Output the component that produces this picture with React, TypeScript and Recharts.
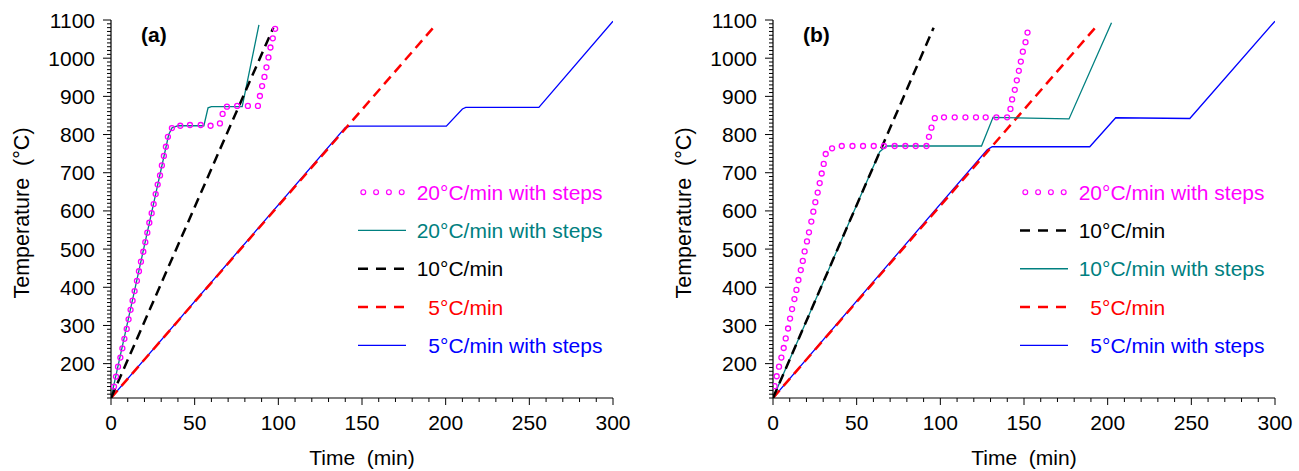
import React from 'react';
import { LineChart, Line, XAxis, YAxis, Legend } from 'recharts';

const FONT = "'Liberation Sans', Arial, sans-serif";

// ---------- tick labels ----------
const xTickLabels = [0, 50, 100, 150, 200, 250, 300];
const yTickLabels = [200, 300, 400, 500, 600, 700, 800, 900, 1000, 1100];
const X_DOMAIN: [number, number] = [0, 300];
const Y_DOMAIN: [number, number] = [110, 1100];
const X_MINOR_STEP = 10;
const Y_MINOR_STEP = 10;

// ---------- panel (a) data ----------
const aCircleTime = [1.8, 3.0, 4.2, 5.6, 6.8, 8.0, 9.4, 10.5, 11.7, 12.9, 14.1, 15.5, 16.7, 17.9, 19.3, 20.5, 21.7, 22.9, 24.3, 25.5, 26.7, 27.9, 29.3, 30.4, 31.6, 32.8, 34.0, 36.4, 41.4, 47.2, 53.6, 59.5, 65.1, 66.7, 69.3, 75.4, 81.8, 87.8, 89.0, 90.3, 91.7, 92.9, 94.1, 95.3, 96.7, 98.1];
const aCircleTemp = [140, 166, 192, 216, 240, 265, 291, 316, 341, 365, 390, 417, 442, 467, 493, 518, 543, 569, 594, 618, 644, 669, 693, 719, 744, 768, 794, 817, 823, 825, 825, 823, 829, 854, 873, 875, 875, 875, 901, 927, 951, 976, 1002, 1028, 1052, 1077];
const aTealTime = [0, 34.5, 36.5, 40, 55.5, 58, 60, 78.4, 88.4];
const aTealTemp = [110, 800, 818, 823, 823, 870, 873, 873, 1087];
const aBlackTime = [0, 97];
const aBlackTemp = [110, 1080];
const aRedTime = [0, 194];
const aRedTemp = [110, 1087];
const aBlueTime = [0, 140, 143, 200.4, 210, 212, 255.7, 300];
const aBlueTemp = [110, 818, 822, 822, 867, 871, 871, 1097];

// ---------- panel (b) data ----------
const bCircleTime = [1.0, 2.2, 3.6, 5.0, 6.4, 7.6, 9.0, 10.2, 11.4, 12.8, 14.0, 15.2, 16.6, 17.8, 18.9, 20.3, 21.5, 22.9, 24.1, 25.3, 26.7, 27.9, 29.1, 30.3, 31.5, 35.3, 41.1, 47.5, 53.8, 60.2, 66.3, 72.7, 79.1, 85.3, 91.7, 93.2, 94.7, 96.7, 102.2, 108.6, 115.0, 121.3, 127.1, 133.5, 139.9, 141.9, 142.9, 144.5, 145.7, 146.9, 148.1, 149.3, 150.9, 152.1];
const bCircleTemp = [141, 167, 192, 216, 241, 266, 292, 318, 343, 369, 393, 419, 445, 469, 494, 520, 544, 572, 598, 623, 648, 673, 698, 723, 749, 764, 770, 770, 770, 770, 770, 770, 770, 770, 770, 794, 818, 843, 845, 845, 845, 845, 845, 845, 845, 867, 892, 917, 942, 967, 991, 1017, 1042, 1067];
const bBlackTime = [0, 96];
const bBlackTemp = [110, 1080];
const bTealTime = [0, 63.8, 67.8, 124.6, 131.5, 176.9, 202.3];
const bTealTemp = [110, 755, 770, 770, 845, 841, 1093];
const bRedTime = [0, 194];
const bRedTemp = [110, 1087];
const bBlueTime = [0, 128, 131, 189.3, 204.8, 249.1, 300];
const bBlueTemp = [110, 760, 768, 768, 844, 842, 1097];

// ---------- legend labels ----------
const aLegendLabels = ['20°C/min with steps', '20°C/min with steps', '10°C/min', '  5°C/min', '  5°C/min with steps'];
const bLegendLabels = ['20°C/min with steps', '10°C/min', '10°C/min with steps', '  5°C/min', '  5°C/min with steps'];

const MAGENTA = '#FF00FF';
const TEAL = '#008080';
const BLACK = '#000000';
const RED = '#FF0000';
const BLUE = '#0000FF';

type Pt = { t: number; T: number };
const zip = (t: number[], T: number[]): Pt[] => t.map((v, i) => ({ t: v, T: T[i] }));

type Kind = 'circle' | 'solid' | 'dash';
type Series = { key: string; data: Pt[]; color: string; kind: Kind };
type LegendItem = { label: string; color: string; kind: Kind };

const range = (a: number, b: number, s: number) => {
  const out: number[] = [];
  for (let v = a; v <= b + 1e-9; v += s) out.push(Math.round(v));
  return out;
};
const xTicksAll = range(X_DOMAIN[0], X_DOMAIN[1], X_MINOR_STEP);
const yTicksAll = range(Y_DOMAIN[0], Y_DOMAIN[1], Y_MINOR_STEP);

const XTick = (props: any) => {
  const { x, y, payload } = props;
  const v = payload.value;
  const major = xTickLabels.includes(v);
  return (
    <g>
      <line x1={x} x2={x} y1={y} y2={y + (major ? 7 : 4)} stroke="#000" strokeWidth={1} />
      {major && (
        <text x={x} y={y + 32} textAnchor="middle" fontSize={21} fill="#000" fontFamily={FONT}>
          {v}
        </text>
      )}
    </g>
  );
};

const YTick = (props: any) => {
  const { x, y, payload } = props;
  const v = payload.value;
  const major = yTickLabels.includes(v);
  return (
    <g>
      <line x1={x - (major ? 8 : 4)} x2={x} y1={y} y2={y} stroke="#000" strokeWidth={1} />
      {major && (
        <text x={x - 16} y={y + 7.5} textAnchor="end" fontSize={21} fill="#000" fontFamily={FONT}>
          {v}
        </text>
      )}
    </g>
  );
};

const XTitle = (props: any) => {
  const vb = props.viewBox || { x: 111, y: 398, width: 502, height: 73 };
  return (
    <text x={vb.x + vb.width / 2} y={vb.y + 67} textAnchor="middle" fontSize={21} fill="#000" fontFamily={FONT} style={{ whiteSpace: 'pre' }}>
      {'Time  (min)'}
    </text>
  );
};

const YTitle = (props: any) => {
  const vb = props.viewBox || { x: 0, y: 20, width: 111, height: 378 };
  const cx = vb.x + 28.5;
  const cy = vb.y + vb.height / 2 + 4;
  return (
    <g>
      <text x={cx} y={cy} transform={`rotate(-90, ${cx}, ${cy})`} textAnchor="middle" fontSize={21.5} fill="#000" fontFamily={FONT} style={{ whiteSpace: 'pre' }}>
        {'Temperature  (°C)'}
      </text>
      <text x={vb.x + vb.width + 30} y={vb.y + 21.5} fontSize={21} fontWeight="bold" fill="#000" fontFamily={FONT}>
        {props.tag}
      </text>
    </g>
  );
};

const LegendBox = ({ items }: { items: LegendItem[] }) => {
  const rowH = 38.3;
  return (
    <svg width={270} height={rowH * items.length} style={{ display: 'block', overflow: 'visible' }}>
      {items.map((it, i) => {
        const cy = rowH / 2 + rowH * i;
        return (
          <g key={i}>
            {it.kind === 'circle' &&
              [0, 1, 2, 3].map((k) => (
                <circle key={k} cx={5.3 + 12.8 * k} cy={cy} r={2.4} fill="none" stroke={it.color} strokeWidth={1.2} />
              ))}
            {it.kind === 'solid' && <line x1={0} x2={48} y1={cy} y2={cy} stroke={it.color} strokeWidth={1.3} />}
            {it.kind === 'dash' && (
              <line x1={0} x2={48} y1={cy} y2={cy} stroke={it.color} strokeWidth={2.5} strokeDasharray="10 8" />
            )}
            <text x={58.7} y={cy + 7.5} fontSize={21} fill={it.color} fontFamily={FONT} style={{ whiteSpace: 'pre' }}>
              {it.label}
            </text>
          </g>
        );
      })}
    </svg>
  );
};

const Panel = ({ tag, series, legend, left, width }: { tag: string; series: Series[]; legend: LegendItem[]; left: number; width: number }) => (
  <div style={{ position: 'absolute', left, top: 0 }}>
    <LineChart width={width} height={471} margin={{ top: 20, right: width - 613, left: 0, bottom: 0 }}>
      <XAxis
        type="number"
        dataKey="t"
        domain={X_DOMAIN}
        ticks={xTicksAll}
        interval={0}
        allowDataOverflow
        height={73}
        tickLine={false}
        tickSize={0}
        tickMargin={0}
        tick={<XTick />}
        axisLine={{ stroke: '#000', strokeWidth: 1.2 }}
        label={<XTitle />}
      />
      <YAxis
        type="number"
        dataKey="T"
        domain={Y_DOMAIN}
        ticks={yTicksAll}
        interval={0}
        allowDataOverflow
        width={111}
        tickLine={false}
        tickSize={0}
        tickMargin={0}
        tick={<YTick />}
        axisLine={{ stroke: '#000', strokeWidth: 1.2 }}
        label={<YTitle tag={tag} />}
      />
      {series.map((s) =>
        s.kind === 'circle' ? (
          <Line
            key={s.key}
            data={s.data}
            dataKey="T"
            type="linear"
            stroke="none"
            dot={{ r: 2.5, stroke: s.color, strokeWidth: 1.3, fill: 'none' }}
            activeDot={false}
            isAnimationActive={false}
            legendType="none"
          />
        ) : (
          <Line
            key={s.key}
            data={s.data}
            dataKey="T"
            type="linear"
            stroke={s.color}
            strokeWidth={s.kind === 'dash' ? 2.5 : 1.3}
            strokeDasharray={s.kind === 'dash' ? '10 6' : undefined}
            dot={false}
            activeDot={false}
            isAnimationActive={false}
            legendType="none"
          />
        )
      )}
      <Legend
        layout="horizontal"
        verticalAlign="middle"
        align="center"
        wrapperStyle={{ left: 358, top: 172.5, width: 270, height: 192 }}
        content={() => <LegendBox items={legend} />}
      />
    </LineChart>
  </div>
);

const seriesA: Series[] = [
  { key: 'blue5s', data: zip(aBlueTime, aBlueTemp), color: BLUE, kind: 'solid' },
  { key: 'red5', data: zip(aRedTime, aRedTemp), color: RED, kind: 'dash' },
  { key: 'teal20s', data: zip(aTealTime, aTealTemp), color: TEAL, kind: 'solid' },
  { key: 'black10', data: zip(aBlackTime, aBlackTemp), color: BLACK, kind: 'dash' },
  { key: 'circ20s', data: zip(aCircleTime, aCircleTemp), color: MAGENTA, kind: 'circle' },
];
const legendA: LegendItem[] = [
  { label: aLegendLabels[0], color: MAGENTA, kind: 'circle' },
  { label: aLegendLabels[1], color: TEAL, kind: 'solid' },
  { label: aLegendLabels[2], color: BLACK, kind: 'dash' },
  { label: aLegendLabels[3], color: RED, kind: 'dash' },
  { label: aLegendLabels[4], color: BLUE, kind: 'solid' },
];

const seriesB: Series[] = [
  { key: 'blue5s', data: zip(bBlueTime, bBlueTemp), color: BLUE, kind: 'solid' },
  { key: 'red5', data: zip(bRedTime, bRedTemp), color: RED, kind: 'dash' },
  { key: 'teal10s', data: zip(bTealTime, bTealTemp), color: TEAL, kind: 'solid' },
  { key: 'black10', data: zip(bBlackTime, bBlackTemp), color: BLACK, kind: 'dash' },
  { key: 'circ20s', data: zip(bCircleTime, bCircleTemp), color: MAGENTA, kind: 'circle' },
];
const legendB: LegendItem[] = [
  { label: bLegendLabels[0], color: MAGENTA, kind: 'circle' },
  { label: bLegendLabels[1], color: BLACK, kind: 'dash' },
  { label: bLegendLabels[2], color: TEAL, kind: 'solid' },
  { label: bLegendLabels[3], color: RED, kind: 'dash' },
  { label: bLegendLabels[4], color: BLUE, kind: 'solid' },
];

export default function App() {
  return (
    <div style={{ position: 'absolute', left: 0, top: 0, width: 1299, height: 471, background: '#fff', overflow: 'hidden', fontFamily: FONT }}>
      <Panel tag="(a)" series={seriesA} legend={legendA} left={0} width={640} />
      <Panel tag="(b)" series={seriesB} legend={legendB} left={662} width={637} />
    </div>
  );
}
